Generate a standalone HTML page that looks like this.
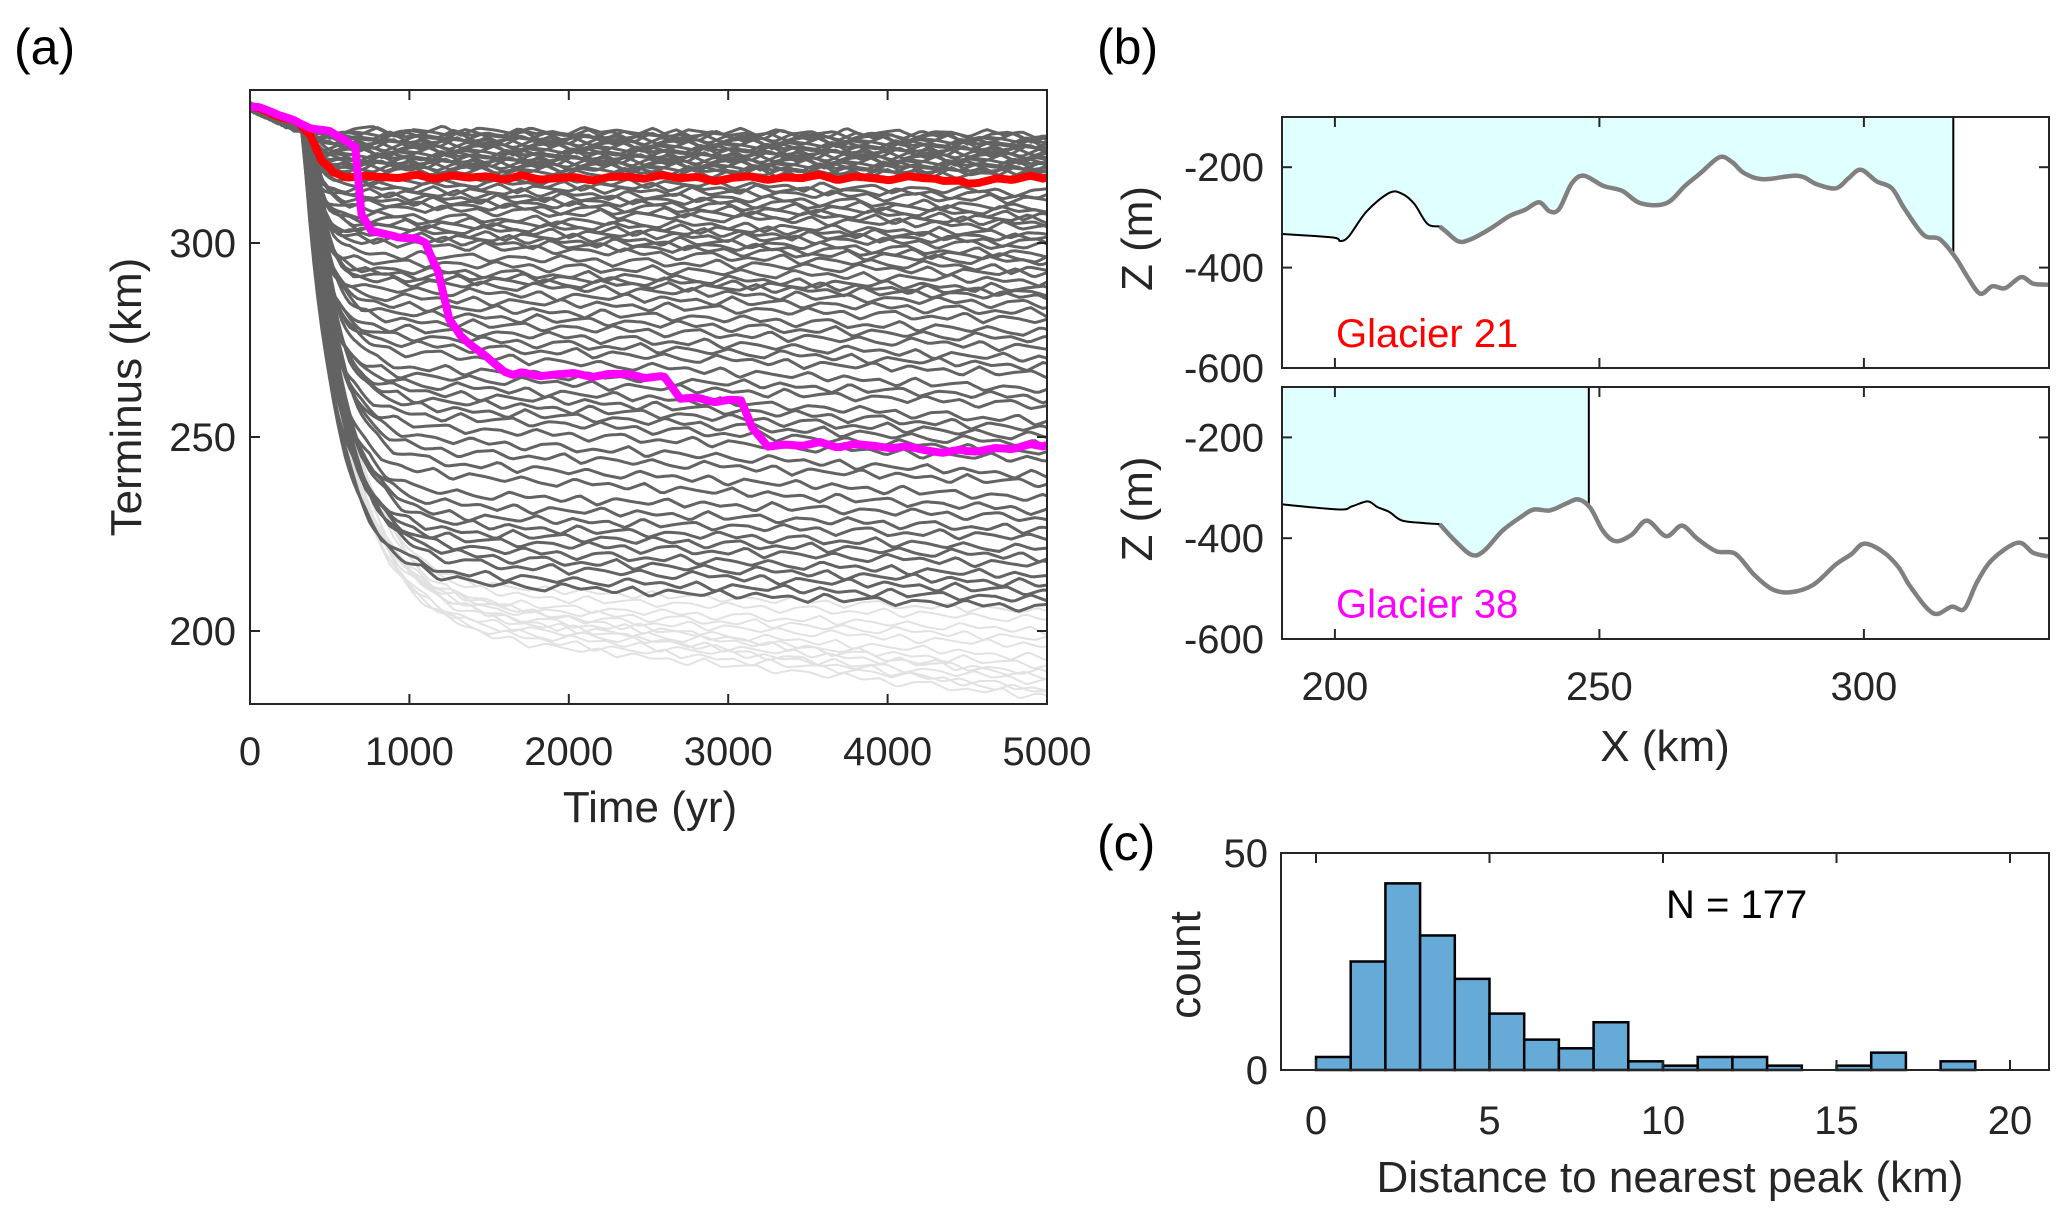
<!DOCTYPE html>
<html><head><meta charset="utf-8"><style>
html,body{margin:0;padding:0;background:#fff;}
svg{display:block;font-family:"Liberation Sans",Arial,sans-serif;}
</style></head><body>
<svg id="fig" width="2067" height="1215" viewBox="0 0 2067 1215" xmlns="http://www.w3.org/2000/svg">
<defs>
<clipPath id="clipA"><rect x="250" y="90" width="797" height="614"/></clipPath>
<clipPath id="clipB1"><rect x="1282" y="117" width="767" height="251"/></clipPath>
<clipPath id="clipB2"><rect x="1282" y="387" width="767" height="252"/></clipPath>
</defs>
<rect width="2067" height="1215" fill="#fff"/>
<g id="panelA"></g>
<g id="panelB"></g>
<g id="panelC"></g>
</svg>
<script>
// ---------- Panel (a) data ----------
const timeTicks = [0,1000,2000,3000,4000,5000];
const termTicks = [200,250,300];
const darkLevel = [329,328.5,328,327.5,327,326.5,326,325.5,325,324.5,324,323.5,323,322.5,322,321.5,321,320.5,320,319.5,319,318.5,
  317,316,315,314,313,312,311,310,309,
  307,306,305,304,303,302,301,300,
  297,295,293,292,291,290,288,
  286,284,282,280,278,276,274,272,
  268,266,264,262,260,258,256,
  253,250,247,244,241,
  236,233,230,228,226,224,
  222,220,218,215,213];
const darkEnd = [328,327.5,327,326.5,326,325.5,325,324.5,324,323.5,323,322.5,322,321.5,321,320.5,320,319.5,319,318.5,318,317.5,
  313,312,311,309,308,307,306,305,304,
  302,301,300,299,297,296,295,293,
  292,290,288,287,286,284,282,
  280,277,275,273,270,268,266,262,
  260,258,254,252,250,248,246,
  244,240,238,234,231,
  229,226,224,221,219,217,
  214,212,210,208,206];
const lightLevel = [212,210,208,207,206,205,204,203,202,201,200,209,207];
const lightEnd   = [205,203,200,198,196,193,191,189,187,185,183,188,184];
const wiggle = [0.3,-0.6,0.9,-0.2,0.5,-1.0,0.4,0.8,-0.7,0.1,-0.4,1.0,-0.9,0.6,0.2,-0.5,0.7,-0.3,-0.8,0.9,
  -0.1,0.4,-0.6,0.8,-1.0,0.5,0.0,-0.4,0.9,-0.7,0.6,-0.2,0.3,-0.9,1.0,-0.5,0.2,0.7,-0.8,0.4];
const redT = [0,150,300,380,450,520,700,1000,1500,2000,2500,3000,3500,4000,4300,4500,4700,5000];
const redV = [335,333,331,328,321,318,317,317,317,316.5,317,316.5,317,316.5,317,315,316.5,317];
const magT = [0,150,300,450,600,660,700,760,900,1100,1180,1250,1320,1500,1650,2000,2400,2600,2700,3000,3080,3150,3250,3600,4000,4500,4700,5000];
const magV = [335,333.5,331,329,327,325,307,303,302,300,293,280,276,270,266,266,266,265,260,259.5,259,252,248,248,247.5,246,247,248];

// ---------- Panel (b) data ----------
const bTicksX = [200,250,300];
const bTicksZ = [-600,-400,-200];
const g21X = [190.1,199.6,201,202.6,206,210.3,212.7,215,217.5,219.8,221,223.4,225.8,229.3,232.9,235.9,238.6,240.6,242.4,244.8,247.1,250.7,254.3,257.8,262.6,266.2,269.1,272.7,275.1,277.4,281,287.5,291.1,294.7,297.1,299.4,302.4,305.3,307.7,311.3,314.3,317.2,319.6,322,324.3,326.7,329.7,332,334.8];
const g21Z = [-333,-340,-347,-338,-288,-251,-253,-273,-313,-318,-328,-348,-343,-323,-298,-285,-270,-288,-283,-232,-217,-237,-247,-272,-272,-237,-212,-180,-190,-212,-224,-217,-234,-242,-222,-205,-228,-242,-283,-335,-343,-378,-419,-452,-437,-441,-419,-432,-434];
const g38X = [190.1,200.8,203.2,206.2,208,210.3,212.7,216.9,219.8,222.8,225.8,228.1,231.7,235.3,237.6,240.6,243.6,246,248.3,250.7,253.1,256.1,259,262.6,265.6,268.5,272.1,275.7,279.2,282.8,286.3,290.5,294.7,297.6,300,303.6,306.5,308.9,313.1,316.6,319,321.4,324.3,329.1,332,334.8];
const g38Z = [-333,-343,-337,-327,-338,-348,-365,-370,-372,-406,-433,-426,-385,-357,-343,-345,-332,-323,-340,-386,-406,-393,-365,-396,-375,-401,-426,-431,-472,-502,-507,-492,-452,-432,-411,-427,-457,-498,-549,-536,-540,-487,-442,-409,-429,-436];
const g21Terminus = 316.9, g21Ground = 220;
const g38Terminus = 248.0, g38Ground = 219.8;

// ---------- Panel (c) data ----------
const binEdges = [0,1,2,3,4,5,6,7,8,9,10,11,12,13,14,15,16,17,18,19,20];
const counts = [3,25,43,31,21,13,7,5,11,2,1,3,3,1,0,1,4,0,2,0];
const cTicksX = [0,5,10,15,20];
const cTicksY = [0,50];

const NS = "http://www.w3.org/2000/svg";
function mk(tag, attrs, parent, text){
  const e = document.createElementNS(NS, tag);
  for (const k in attrs) e.setAttribute(k, attrs[k]);
  if (text !== undefined) e.textContent = text;
  parent.appendChild(e); return e;
}
const AX = "#262626";
const FT = 40, FL = 44;

// ===== Panel A =====
const A = document.getElementById('panelA');
const xA = t => 250 + t/5000*797;
const yA = v => 631 - (v-200)*3.88;
const tGrid = []; for (let t=0;t<=5000;t+=25) tGrid.push(t);
function noise(t, i){
  const u = t/110 + i*3.7;
  const k = Math.floor(u), f = u-k;
  const a = wiggle[k % wiggle.length], b = wiggle[(k+1) % wiggle.length];
  return a + (b-a)*f;
}
function curve(level, end, tauBase, tauScale, i, amp){
  return tGrid.map((t)=>{
    const t0 = 330 + (i%5)*15;
    let v;
    const pre = 335 - 6*Math.min(t,t0)/t0;
    if (t <= t0) v = pre;
    else {
      const tau = tauBase + (329-level)*tauScale;
      const base = level + (pre-level)*Math.exp(-(t-t0)/tau);
      const drift = t>800 ? (end-level)*(t-800)/4200 : 0;
      v = base + drift;
    }
    v += noise(t,i)*amp;
    return xA(t).toFixed(1)+","+yA(v).toFixed(1);
  }).join(" ");
}
const gL = mk('g',{'clip-path':'url(#clipA)'},A);


lightLevel.forEach((lv,i)=>{
  const p = mk('polyline',{points:curve(lv,lightEnd[i],60,1.6,i+3,1.2),fill:'none',stroke:'#e2e2e2','stroke-width':2},gL);
  
  
});
darkLevel.forEach((lv,i)=>{
  const p = mk('polyline',{points:curve(lv,darkEnd[i],30,1.5,i,1.3),fill:'none',stroke:'#636363','stroke-width':3},gL);
  
  
});
function keyLine(T,V,color,name){
  const pts=[];
  for (let j=0;j<T.length-1;j++){
    for (let t=T[j]; t<T[j+1]; t+=25){
      const f=(t-T[j])/(T[j+1]-T[j]);
      const w = noise(t,5)*0.7;
      pts.push(xA(t).toFixed(1)+","+yA(V[j]+(V[j+1]-V[j])*f+w).toFixed(1));
    }
  }
  pts.push(xA(T[T.length-1])+","+yA(V[V.length-1]));
  const p = mk('polyline',{points:pts.join(" "),fill:'none',stroke:color,'stroke-width':8,'stroke-linejoin':'round'},gL);
  
  
}
keyLine(redT,redV,'#ff0000','glacier-21-line');
keyLine(magT,magV,'#ff00ff','glacier-38-line');
mk('rect',{x:250,y:90,width:797,height:614,fill:'none',stroke:AX,'stroke-width':2},A);
timeTicks.forEach(t=>{
  mk('line',{x1:xA(t),y1:704,x2:xA(t),y2:694,stroke:AX,'stroke-width':2},A);
  mk('line',{x1:xA(t),y1:90,x2:xA(t),y2:100,stroke:AX,'stroke-width':2},A);
  const tx=mk('text',{x:xA(t),y:765,'font-size':FT,'text-anchor':'middle',fill:AX},A,String(t));
  
  
});
termTicks.forEach(v=>{
  mk('line',{x1:250,y1:yA(v),x2:260,y2:yA(v),stroke:AX,'stroke-width':2},A);
  mk('line',{x1:1047,y1:yA(v),x2:1037,y2:yA(v),stroke:AX,'stroke-width':2},A);
  const tx=mk('text',{x:236,y:yA(v)+14,'font-size':FT,'text-anchor':'end',fill:AX},A,String(v));
  
  
});
let t1=mk('text',{x:650,y:822,'font-size':FL,'text-anchor':'middle',fill:AX},A,'Time (yr)');

let t2=mk('text',{x:141,y:397,'font-size':FL,'text-anchor':'middle',fill:AX,transform:'rotate(-90 141 397)'},A,'Terminus (km)');

let t3=mk('text',{x:14,y:64,'font-size':50,fill:'#000'},A,'(a)');


// ===== Panel B =====
const B = document.getElementById('panelB');
const xB = x => 1282 + (x-190)*5.29;
function smoothPath(pts){
  if (pts.length<2) return "";
  let d = "M"+pts[0][0].toFixed(1)+","+pts[0][1].toFixed(1);
  for (let i=0;i<pts.length-1;i++){
    const p0=pts[Math.max(0,i-1)], p1=pts[i], p2=pts[i+1], p3=pts[Math.min(pts.length-1,i+2)];
    const c1=[p1[0]+(p2[0]-p0[0])/6, p1[1]+(p2[1]-p0[1])/6];
    const c2=[p2[0]-(p3[0]-p1[0])/6, p2[1]-(p3[1]-p1[1])/6];
    d += " C"+c1[0].toFixed(1)+","+c1[1].toFixed(1)+" "+c2[0].toFixed(1)+","+c2[1].toFixed(1)+" "+p2[0].toFixed(1)+","+p2[1].toFixed(1);
  }
  return d;
}
function drawProfile(top, bottom, X, Z, term, ground, label, color, clip){
  const yB = z => bottom - (z+600)*(bottom-top)/500;
  const g = mk('g',{'clip-path':'url(#'+clip+')'},B);
  
  
  let zt=Z[Z.length-1];
  for(let i=0;i<X.length-1;i++) if(X[i]<=term&&X[i+1]>term){zt=Z[i]+(Z[i+1]-Z[i])*(term-X[i])/(X[i+1]-X[i]);}
  const under=[]; X.forEach((x,i)=>{ if(x<term) under.push([xB(x),yB(Z[i])]); });
  under.push([xB(term),yB(zt)]);
  const f=mk('path',{d:smoothPath(under)+" L"+xB(term)+","+top+" L"+xB(190)+","+top+" Z",fill:'#e0ffff',stroke:'none'},g);
  
  
  const tl=mk('line',{x1:xB(term),y1:top,x2:xB(term),y2:yB(zt),stroke:'#000','stroke-width':2},g);
  
  
  const thin=[],thick=[];
  X.forEach((x,i)=>{ const p=[xB(x),yB(Z[i])]; if(x<=ground+0.5) thin.push(p); if(x>=ground-0.5) thick.push(p); });
  const bl=mk('path',{d:smoothPath(thin),fill:'none',stroke:'#000','stroke-width':2},g);
  
  
  const gb=mk('path',{d:smoothPath(thick),fill:'none',stroke:'#808080','stroke-width':4.5,'stroke-linejoin':'round'},g);
  
  
  mk('rect',{x:1282,y:top,width:767,height:bottom-top,fill:'none',stroke:AX,'stroke-width':2},B);
  bTicksX.forEach(x=>{
    mk('line',{x1:xB(x),y1:bottom,x2:xB(x),y2:bottom-10,stroke:AX,'stroke-width':2},B);
    mk('line',{x1:xB(x),y1:top,x2:xB(x),y2:top+10,stroke:AX,'stroke-width':2},B);
  });
  bTicksZ.forEach(z=>{
    mk('line',{x1:1282,y1:yB(z),x2:1292,y2:yB(z),stroke:AX,'stroke-width':2},B);
    mk('line',{x1:2049,y1:yB(z),x2:2039,y2:yB(z),stroke:AX,'stroke-width':2},B);
    const tx=mk('text',{x:1264,y:yB(z)+14,'font-size':FT,'text-anchor':'end',fill:AX},B,String(z));
    
    
  });
  const yc=(top+bottom)/2-4;
  const yl=mk('text',{x:1152,y:yc,'font-size':FL,'text-anchor':'middle',fill:AX,transform:'rotate(-90 1152 '+yc+')'},B,'Z (m)');
  
  const lb=mk('text',{x:1336,y:yB(-530)+14,'font-size':FT,fill:color},B,label);
  
  
}
drawProfile(117,368,g21X,g21Z,g21Terminus,g21Ground,'Glacier 21','#ff0000','clipB1');
drawProfile(387,639,g38X,g38Z,g38Terminus,g38Ground,'Glacier 38','#ff00ff','clipB2');
bTicksX.forEach(x=>{
  const tx=mk('text',{x:xB(x),y:700,'font-size':FT,'text-anchor':'middle',fill:AX},B,String(x));
  
  
});
let b1=mk('text',{x:1665,y:761,'font-size':FL,'text-anchor':'middle',fill:AX},B,'X (km)');

let b2=mk('text',{x:1097,y:64,'font-size':50,fill:'#000'},B,'(b)');


// ===== Panel C =====
const C = document.getElementById('panelC');
const xC = v => 1316 + v*34.7;
const yC = c => 1070 - c*4.34;
counts.forEach((c,i)=>{
  const r=mk('rect',{x:xC(binEdges[i]),y:yC(c),width:xC(binEdges[i+1])-xC(binEdges[i]),height:1070-yC(c),fill:'#66aad8',stroke:'#000','stroke-width':2.5},C);
  
  
});
mk('rect',{x:1281,y:853,width:768,height:217,fill:'none',stroke:AX,'stroke-width':2},C);
cTicksX.forEach(v=>{
  mk('line',{x1:xC(v),y1:853,x2:xC(v),y2:863,stroke:AX,'stroke-width':2},C);
  mk('line',{x1:xC(v),y1:1070,x2:xC(v),y2:1060,stroke:AX,'stroke-width':2},C);
  const tx=mk('text',{x:xC(v),y:1134,'font-size':FT,'text-anchor':'middle',fill:AX},C,String(v));
  
  
});
cTicksY.forEach(c=>{
  const tx=mk('text',{x:1268,y:yC(c)+14,'font-size':FT,'text-anchor':'end',fill:AX},C,String(c));
  
  
});
let c1=mk('text',{x:1670,y:1192,'font-size':FL,'text-anchor':'middle',fill:AX},C,'Distance to nearest peak (km)');

let c2=mk('text',{x:1200,y:965,'font-size':FL,'text-anchor':'middle',fill:AX,transform:'rotate(-90 1200 965)'},C,'count');

let c3=mk('text',{x:1666,y:918,'font-size':FT,fill:'#000'},C,'N = 177');

let c4=mk('text',{x:1097,y:860,'font-size':50,fill:'#000'},C,'(c)');

</script>
</body></html>
